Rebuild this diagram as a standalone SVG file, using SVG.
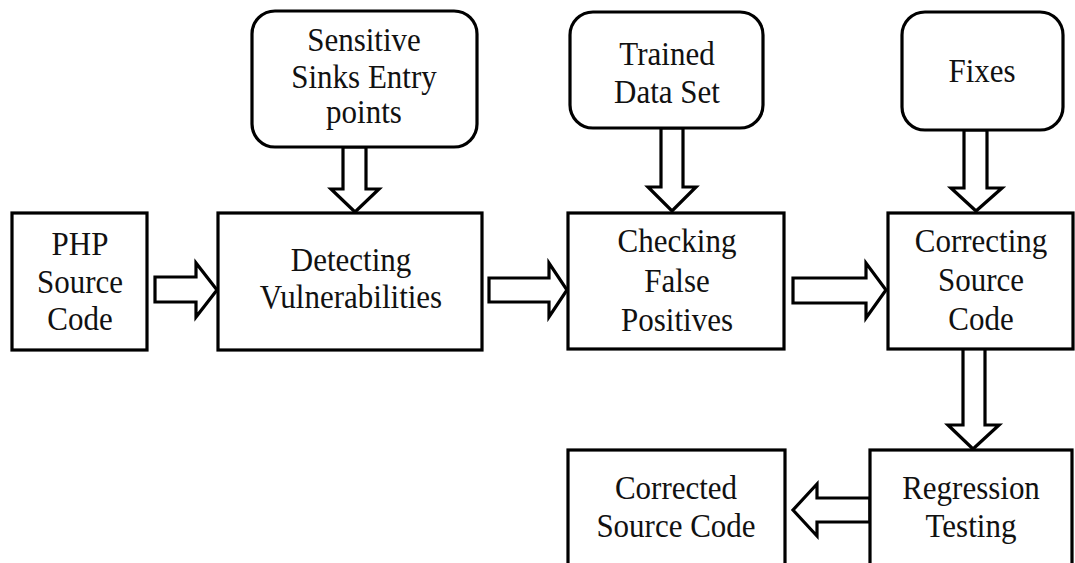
<svg xmlns="http://www.w3.org/2000/svg" width="1075" height="563" viewBox="0 0 1075 563">
  <style>
    .box { fill: #fff; stroke: #000; stroke-width: 3.2; }
    .arrow { fill: #fff; stroke: #000; stroke-width: 3.2; stroke-linejoin: miter; }
    text { font-family: "Liberation Serif", "Times New Roman", serif; font-size: 31px; fill: #111; text-anchor: middle; }
  </style>
  <rect width="1075" height="563" fill="#fff"/>

  <!-- block arrows -->
  <g id="connectors">
    <polygon class="arrow" points="155,277 196,277 196,263 217,290 196,317 196,302 155,302"/>
    <polygon class="arrow" points="489,278 549,278 549,263 567,290 549,317 549,302 489,302"/>
    <polygon class="arrow" points="793,278 866,278 866,263 886,290 866,318 866,303 793,303"/>
    <polygon class="arrow" points="343,147 366,147 366,189 379,189 355,212 331,189 343,189"/>
    <polygon class="arrow" points="661,128 683,128 683,187 696,187 672,211 648,187 661,187"/>
    <polygon class="arrow" points="964,130 987,130 987,188 1002,188 976,211 951,188 964,188"/>
    <polygon class="arrow" points="963,348 985,348 985,425 999,425 973,449 948,425 963,425"/>
    <polygon class="arrow" points="870,498 817,498 817,484 793,510 817,536 817,522 870,522"/>
  </g>

  <!-- labels are set slightly tall: translate to baseline, then stretch vertically -->
  <g id="php-source">
    <rect class="box" x="12" y="213" width="135" height="137"/>
    <text transform="translate(80 255) scale(1 1.12)">PHP</text>
    <text transform="translate(80 293) scale(1 1.12)">Source</text>
    <text transform="translate(80 330) scale(1 1.12)">Code</text>
  </g>

  <g id="sinks-entry">
    <rect class="box" x="252" y="11" width="225" height="136" rx="23"/>
    <text transform="translate(364 51) scale(1 1.12)">Sensitive</text>
    <text transform="translate(364 88) scale(1 1.12)">Sinks Entry</text>
    <text transform="translate(364 123) scale(1 1.12)">points</text>
  </g>

  <g id="detecting">
    <rect class="box" x="218" y="213" width="264" height="137"/>
    <text transform="translate(351 271) scale(1 1.06)">Detecting</text>
    <text transform="translate(351 308) scale(1 1.06)">Vulnerabilities</text>
  </g>

  <g id="trained-data">
    <rect class="box" x="570" y="12" width="193" height="116" rx="23"/>
    <text transform="translate(667 65) scale(1 1.12)">Trained</text>
    <text transform="translate(667 103) scale(1 1.12)">Data Set</text>
  </g>

  <g id="checking">
    <rect class="box" x="568" y="213" width="216" height="136"/>
    <text transform="translate(677 252) scale(1 1.12)">Checking</text>
    <text transform="translate(677 292) scale(1 1.12)">False</text>
    <text transform="translate(677 331) scale(1 1.12)">Positives</text>
  </g>

  <g id="fixes">
    <rect class="box" x="902" y="12" width="161" height="118" rx="23"/>
    <text transform="translate(982 82) scale(1 1.12)">Fixes</text>
  </g>

  <g id="correcting">
    <rect class="box" x="888" y="213" width="185" height="136"/>
    <text transform="translate(981 252) scale(1 1.12)">Correcting</text>
    <text transform="translate(981 291) scale(1 1.12)">Source</text>
    <text transform="translate(981 330) scale(1 1.12)">Code</text>
  </g>

  <g id="regression">
    <rect class="box" x="870" y="450" width="202" height="120"/>
    <text transform="translate(971 499) scale(1 1.12)">Regression</text>
    <text transform="translate(971 537) scale(1 1.12)">Testing</text>
  </g>

  <g id="corrected">
    <rect class="box" x="568" y="450" width="217" height="120"/>
    <text transform="translate(676 499) scale(1 1.12)">Corrected</text>
    <text transform="translate(676 537) scale(1 1.12)">Source Code</text>
  </g>
</svg>
